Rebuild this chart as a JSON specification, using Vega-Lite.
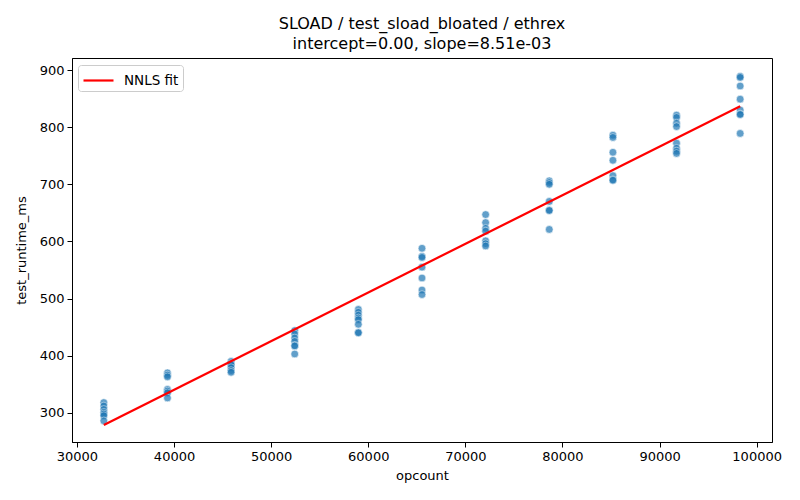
{
  "$schema": "https://vega.github.io/schema/vega-lite/v6.json",
  "width": 700,
  "height": 384,
  "autosize": "none",
  "padding": {"left": 72, "top": 58, "right": 28, "bottom": 58},
  "background": "white",
  "title": {
    "text": ["SLOAD / test_sload_bloated / ethrex", "intercept=0.00, slope=8.51e-03"],
    "font": "DejaVu Sans",
    "fontSize": 16,
    "fontWeight": "normal",
    "lineHeight": 20,
    "color": "black",
    "anchor": "middle",
    "offset": 6
  },
  "datasets": {
    "runs": [
      {"opcount": 32768, "test_runtime_ms": 318},
      {"opcount": 32768, "test_runtime_ms": 312},
      {"opcount": 32768, "test_runtime_ms": 306},
      {"opcount": 32768, "test_runtime_ms": 301},
      {"opcount": 32768, "test_runtime_ms": 298},
      {"opcount": 32768, "test_runtime_ms": 295},
      {"opcount": 32768, "test_runtime_ms": 286},
      {"opcount": 39322, "test_runtime_ms": 370},
      {"opcount": 39322, "test_runtime_ms": 366},
      {"opcount": 39322, "test_runtime_ms": 363},
      {"opcount": 39322, "test_runtime_ms": 341},
      {"opcount": 39322, "test_runtime_ms": 338},
      {"opcount": 39322, "test_runtime_ms": 335},
      {"opcount": 39322, "test_runtime_ms": 326},
      {"opcount": 45875, "test_runtime_ms": 390},
      {"opcount": 45875, "test_runtime_ms": 386},
      {"opcount": 45875, "test_runtime_ms": 384},
      {"opcount": 45875, "test_runtime_ms": 379},
      {"opcount": 45875, "test_runtime_ms": 374},
      {"opcount": 45875, "test_runtime_ms": 371},
      {"opcount": 52429, "test_runtime_ms": 444},
      {"opcount": 52429, "test_runtime_ms": 438},
      {"opcount": 52429, "test_runtime_ms": 431},
      {"opcount": 52429, "test_runtime_ms": 425},
      {"opcount": 52429, "test_runtime_ms": 418},
      {"opcount": 52429, "test_runtime_ms": 417},
      {"opcount": 52429, "test_runtime_ms": 403},
      {"opcount": 58982, "test_runtime_ms": 481},
      {"opcount": 58982, "test_runtime_ms": 476},
      {"opcount": 58982, "test_runtime_ms": 471},
      {"opcount": 58982, "test_runtime_ms": 466},
      {"opcount": 58982, "test_runtime_ms": 463},
      {"opcount": 58982, "test_runtime_ms": 455},
      {"opcount": 58982, "test_runtime_ms": 441},
      {"opcount": 58982, "test_runtime_ms": 440},
      {"opcount": 65536, "test_runtime_ms": 588},
      {"opcount": 65536, "test_runtime_ms": 574},
      {"opcount": 65536, "test_runtime_ms": 572},
      {"opcount": 65536, "test_runtime_ms": 555},
      {"opcount": 65536, "test_runtime_ms": 536},
      {"opcount": 65536, "test_runtime_ms": 515},
      {"opcount": 65536, "test_runtime_ms": 507},
      {"opcount": 72090, "test_runtime_ms": 647},
      {"opcount": 72090, "test_runtime_ms": 633},
      {"opcount": 72090, "test_runtime_ms": 623},
      {"opcount": 72090, "test_runtime_ms": 618},
      {"opcount": 72090, "test_runtime_ms": 601},
      {"opcount": 72090, "test_runtime_ms": 596},
      {"opcount": 72090, "test_runtime_ms": 592},
      {"opcount": 78643, "test_runtime_ms": 706},
      {"opcount": 78643, "test_runtime_ms": 703},
      {"opcount": 78643, "test_runtime_ms": 700},
      {"opcount": 78643, "test_runtime_ms": 670},
      {"opcount": 78643, "test_runtime_ms": 655},
      {"opcount": 78643, "test_runtime_ms": 654},
      {"opcount": 78643, "test_runtime_ms": 621},
      {"opcount": 85197, "test_runtime_ms": 786},
      {"opcount": 85197, "test_runtime_ms": 782},
      {"opcount": 85197, "test_runtime_ms": 756},
      {"opcount": 85197, "test_runtime_ms": 742},
      {"opcount": 85197, "test_runtime_ms": 715},
      {"opcount": 85197, "test_runtime_ms": 708},
      {"opcount": 85197, "test_runtime_ms": 707},
      {"opcount": 91750, "test_runtime_ms": 821},
      {"opcount": 91750, "test_runtime_ms": 817},
      {"opcount": 91750, "test_runtime_ms": 807},
      {"opcount": 91750, "test_runtime_ms": 801},
      {"opcount": 91750, "test_runtime_ms": 772},
      {"opcount": 91750, "test_runtime_ms": 763},
      {"opcount": 91750, "test_runtime_ms": 758},
      {"opcount": 91750, "test_runtime_ms": 754},
      {"opcount": 98304, "test_runtime_ms": 889},
      {"opcount": 98304, "test_runtime_ms": 887},
      {"opcount": 98304, "test_runtime_ms": 872},
      {"opcount": 98304, "test_runtime_ms": 849},
      {"opcount": 98304, "test_runtime_ms": 830},
      {"opcount": 98304, "test_runtime_ms": 823},
      {"opcount": 98304, "test_runtime_ms": 822},
      {"opcount": 98304, "test_runtime_ms": 789}
    ],
    "fit": [
      {"opcount": 32768, "test_runtime_ms": 278.9, "label": "NNLS fit"},
      {"opcount": 98304, "test_runtime_ms": 836.6, "label": "NNLS fit"}
    ]
  },
  "encoding": {
    "x": {
      "field": "opcount",
      "type": "quantitative",
      "scale": {"domain": [29491, 101581], "nice": false, "zero": false},
      "axis": {"values": [30000, 40000, 50000, 60000, 70000, 80000, 90000, 100000], "format": "d"}
    },
    "y": {
      "field": "test_runtime_ms",
      "type": "quantitative",
      "scale": {"domain": [249, 921], "nice": false, "zero": false},
      "axis": {"values": [300, 400, 500, 600, 700, 800, 900], "format": "d"}
    }
  },
  "layer": [
    {
      "data": {"name": "runs"},
      "mark": {"type": "circle", "size": 60, "color": "#1f77b4", "opacity": 0.7, "stroke": "white", "strokeWidth": 0.6, "strokeOpacity": 1}
    },
    {
      "data": {"name": "fit"},
      "mark": {"type": "line", "strokeWidth": 2.2},
      "encoding": {
        "color": {
          "field": "label",
          "type": "nominal",
          "scale": {"range": ["#ff0000"]},
          "legend": {
            "title": null,
            "orient": "none",
            "legendX": 6,
            "legendY": 7,
            "symbolType": "M-1.5,0H1.5",
            "symbolSize": 400,
            "symbolStrokeWidth": 2.2,
            "symbolOffset": 5,
            "labelOffset": 14,
            "labelFontSize": 13.5,
            "labelFont": "DejaVu Sans",
            "labelColor": "black",
            "strokeColor": "#cccccc",
            "fillColor": "white",
            "padding": 4,
            "cornerRadius": 3
          }
        }
      }
    }
  ],
  "config": {
    "view": {"stroke": "black", "strokeWidth": 1},
    "axis": {
      "grid": false,
      "domainColor": "black",
      "tickColor": "black",
      "tickSize": 5,
      "labelFont": "DejaVu Sans",
      "labelFontSize": 13,
      "labelColor": "black",
      "titleFont": "DejaVu Sans",
      "titleFontSize": 13,
      "titleFontWeight": "normal",
      "titleColor": "black",
      "labelPadding": 3
    },
    "axisX": {"titlePadding": 6},
    "axisY": {"titlePadding": 11},
    "legend": {"symbolOpacity": 1}
  }
}
